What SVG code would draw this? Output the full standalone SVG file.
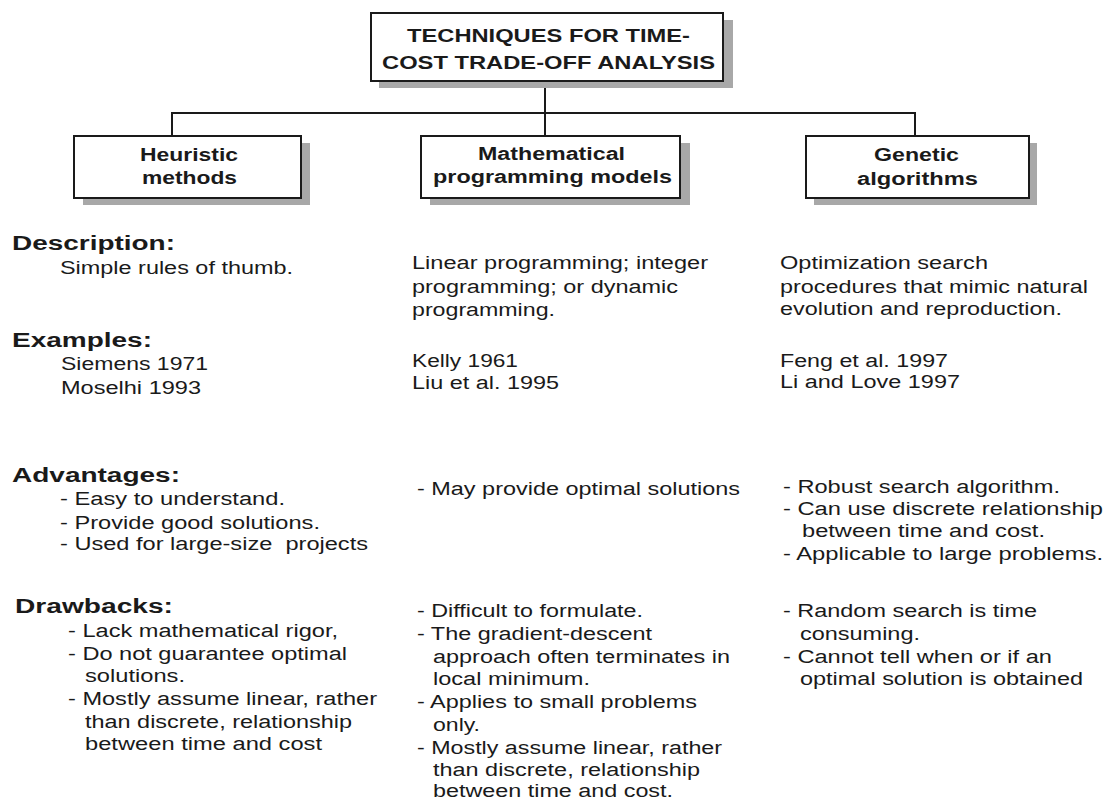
<svg xmlns="http://www.w3.org/2000/svg" width="1104" height="801" viewBox="0 0 1104 801">
<style>
text{font-family:"Liberation Sans",Arial,Helvetica,sans-serif;fill:#1a1a1a}
.t{font-size:19px;font-weight:bold}
.n{font-size:18px;font-weight:bold}
.h{font-size:20px;font-weight:bold}
.b{font-size:18px}
.box{fill:#fff;stroke:#1a1a1a;stroke-width:2}
.sh{fill:#a8a8a8}
.ln{fill:none;stroke:#1a1a1a;stroke-width:2}
</style>
<rect width="1104" height="801" fill="#fff"/>
<g id="connectors">
<path class="ln" d="M545 81V136M172 136V113H915V136"/>
</g>
<g id="title">
<rect class="sh" x="379" y="20" width="354" height="68"/>
<rect class="box" x="371" y="13" width="352" height="68"/>
<text class="t" x="407" y="42" textLength="283" lengthAdjust="spacingAndGlyphs">TECHNIQUES FOR TIME-</text>
<text class="t" x="382" y="69" textLength="333" lengthAdjust="spacingAndGlyphs">COST TRADE-OFF ANALYSIS</text>
</g>
<g id="heuristic">
<rect class="sh" x="83" y="143" width="227" height="62"/>
<rect class="box" x="74" y="136" width="227" height="62"/>
<text class="n" x="140" y="161" textLength="98" lengthAdjust="spacingAndGlyphs">Heuristic</text>
<text class="n" x="142" y="184" textLength="95" lengthAdjust="spacingAndGlyphs">methods</text>
</g>
<g id="mathematical">
<rect class="sh" x="430" y="143" width="260" height="62"/>
<rect class="box" x="421" y="136" width="259" height="62"/>
<text class="n" x="478" y="160" textLength="147" lengthAdjust="spacingAndGlyphs">Mathematical</text>
<text class="n" x="433" y="183" textLength="239" lengthAdjust="spacingAndGlyphs">programming models</text>
</g>
<g id="genetic">
<rect class="sh" x="814" y="143" width="223" height="62"/>
<rect class="box" x="806" y="136" width="223" height="62"/>
<text class="n" x="874" y="161" textLength="85" lengthAdjust="spacingAndGlyphs">Genetic</text>
<text class="n" x="857" y="185" textLength="121" lengthAdjust="spacingAndGlyphs">algorithms</text>
</g>
<g id="description">
<text class="h" x="12" y="250" textLength="163" lengthAdjust="spacingAndGlyphs">Description:</text>
<text class="b" x="60" y="274" textLength="233" lengthAdjust="spacingAndGlyphs">Simple rules of thumb.</text>
<text class="b" x="412" y="269" textLength="296" lengthAdjust="spacingAndGlyphs">Linear programming; integer</text>
<text class="b" x="412" y="293" textLength="266" lengthAdjust="spacingAndGlyphs">programming; or dynamic</text>
<text class="b" x="412" y="316" textLength="143" lengthAdjust="spacingAndGlyphs">programming.</text>
<text class="b" x="780" y="269" textLength="208" lengthAdjust="spacingAndGlyphs">Optimization search</text>
<text class="b" x="780" y="293" textLength="308" lengthAdjust="spacingAndGlyphs">procedures that mimic natural</text>
<text class="b" x="780" y="315" textLength="282" lengthAdjust="spacingAndGlyphs">evolution and reproduction.</text>
</g>
<g id="examples">
<text class="h" x="12" y="347" textLength="140" lengthAdjust="spacingAndGlyphs">Examples:</text>
<text class="b" x="61" y="370" textLength="147" lengthAdjust="spacingAndGlyphs">Siemens 1971</text>
<text class="b" x="61" y="394" textLength="140" lengthAdjust="spacingAndGlyphs">Moselhi 1993</text>
<text class="b" x="412" y="367" textLength="106" lengthAdjust="spacingAndGlyphs">Kelly 1961</text>
<text class="b" x="412" y="389" textLength="147" lengthAdjust="spacingAndGlyphs">Liu et al. 1995</text>
<text class="b" x="780" y="367" textLength="168" lengthAdjust="spacingAndGlyphs">Feng et al. 1997</text>
<text class="b" x="780" y="388" textLength="180" lengthAdjust="spacingAndGlyphs">Li and Love 1997</text>
</g>
<g id="advantages">
<text class="h" x="12" y="482" textLength="168" lengthAdjust="spacingAndGlyphs">Advantages:</text>
<text class="b" x="60" y="505" textLength="225" lengthAdjust="spacingAndGlyphs">- Easy to understand.</text>
<text class="b" x="60" y="529" textLength="260" lengthAdjust="spacingAndGlyphs">- Provide good solutions.</text>
<text class="b" x="60" y="550" textLength="308" lengthAdjust="spacingAndGlyphs" xml:space="preserve">- Used for large-size  projects</text>
<text class="b" x="417" y="495" textLength="323" lengthAdjust="spacingAndGlyphs">- May provide optimal solutions</text>
<text class="b" x="783" y="493" textLength="277" lengthAdjust="spacingAndGlyphs">- Robust search algorithm.</text>
<text class="b" x="783" y="515" textLength="320" lengthAdjust="spacingAndGlyphs">- Can use discrete relationship</text>
<text class="b" x="802" y="537" textLength="243" lengthAdjust="spacingAndGlyphs">between time and cost.</text>
<text class="b" x="783" y="560" textLength="320" lengthAdjust="spacingAndGlyphs">- Applicable to large problems.</text>
</g>
<g id="drawbacks">
<text class="h" x="15" y="613" textLength="158" lengthAdjust="spacingAndGlyphs">Drawbacks:</text>
<text class="b" x="68" y="637" textLength="270" lengthAdjust="spacingAndGlyphs">- Lack mathematical rigor,</text>
<text class="b" x="68" y="660" textLength="279" lengthAdjust="spacingAndGlyphs">- Do not guarantee optimal</text>
<text class="b" x="85" y="682" textLength="100" lengthAdjust="spacingAndGlyphs">solutions.</text>
<text class="b" x="68" y="705" textLength="309" lengthAdjust="spacingAndGlyphs">- Mostly assume linear, rather</text>
<text class="b" x="85" y="728" textLength="267" lengthAdjust="spacingAndGlyphs">than discrete, relationship</text>
<text class="b" x="85" y="750" textLength="237" lengthAdjust="spacingAndGlyphs">between time and cost</text>
<text class="b" x="417" y="617" textLength="226" lengthAdjust="spacingAndGlyphs">- Difficult to formulate.</text>
<text class="b" x="417" y="640" textLength="235" lengthAdjust="spacingAndGlyphs">- The gradient-descent</text>
<text class="b" x="433" y="663" textLength="297" lengthAdjust="spacingAndGlyphs">approach often terminates in</text>
<text class="b" x="433" y="685" textLength="157" lengthAdjust="spacingAndGlyphs">local minimum.</text>
<text class="b" x="417" y="708" textLength="280" lengthAdjust="spacingAndGlyphs">- Applies to small problems</text>
<text class="b" x="433" y="731" textLength="47" lengthAdjust="spacingAndGlyphs">only.</text>
<text class="b" x="417" y="754" textLength="305" lengthAdjust="spacingAndGlyphs">- Mostly assume linear, rather</text>
<text class="b" x="433" y="776" textLength="267" lengthAdjust="spacingAndGlyphs">than discrete, relationship</text>
<text class="b" x="433" y="797" textLength="240" lengthAdjust="spacingAndGlyphs">between time and cost.</text>
<text class="b" x="783" y="617" textLength="254" lengthAdjust="spacingAndGlyphs">- Random search is time</text>
<text class="b" x="800" y="640" textLength="120" lengthAdjust="spacingAndGlyphs">consuming.</text>
<text class="b" x="783" y="663" textLength="269" lengthAdjust="spacingAndGlyphs">- Cannot tell when or if an</text>
<text class="b" x="800" y="685" textLength="283" lengthAdjust="spacingAndGlyphs">optimal solution is obtained</text>
</g>
</svg>
